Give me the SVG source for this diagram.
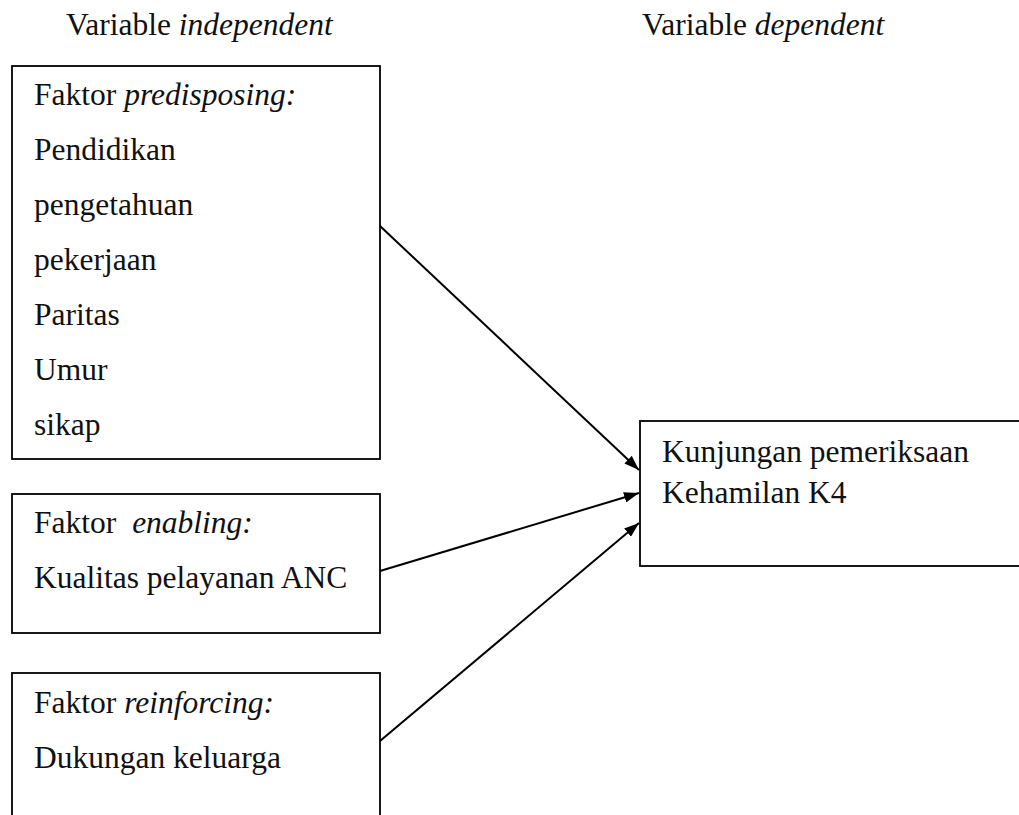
<svg xmlns="http://www.w3.org/2000/svg" width="1019" height="815" viewBox="0 0 1019 815">
  <style>
    text { font-family: "Liberation Serif", "Times New Roman", serif; font-size: 31.5px; fill: #111; }
    .it { font-style: italic; }
    .box { fill: none; stroke: #000; stroke-width: 1.8; }
    .conn { stroke: #000; stroke-width: 2; fill: none; marker-end: url(#arrow); }
  </style>
  <defs>
    <marker id="arrow" viewBox="0 0 14 10" refX="14" refY="5" markerWidth="7.5" markerHeight="5.4" markerUnits="strokeWidth" orient="auto">
      <path d="M0,0 L14,5 L0,10 Z" fill="#000"/>
    </marker>
  </defs>
  <rect width="1019" height="815" fill="#fff"/>

  <g id="header-independent">
    <text x="66" y="35">Variable <tspan class="it">independent</tspan></text>
  </g>
  <g id="header-dependent">
    <text x="642" y="35">Variable <tspan class="it">dependent</tspan></text>
  </g>

  <g id="node-predisposing">
    <rect class="box" x="12" y="66" width="368" height="393"/>
    <text x="34" y="105">Faktor <tspan class="it">predisposing:</tspan></text>
    <text x="34" y="160">Pendidikan</text>
    <text x="34" y="215">pengetahuan</text>
    <text x="34" y="270">pekerjaan</text>
    <text x="34" y="325">Paritas</text>
    <text x="34" y="380">Umur</text>
    <text x="34" y="435">sikap</text>
  </g>

  <g id="node-enabling">
    <rect class="box" x="12" y="494" width="368" height="139"/>
    <text x="34" y="533">Faktor <tspan class="it" dx="8">enabling:</tspan></text>
    <text x="34" y="588">Kualitas pelayanan ANC</text>
  </g>

  <g id="node-reinforcing">
    <rect class="box" x="12" y="673" width="368" height="160"/>
    <text x="34" y="713">Faktor <tspan class="it">reinforcing:</tspan></text>
    <text x="34" y="768">Dukungan keluarga</text>
  </g>

  <g id="node-k4">
    <rect class="box" x="640" y="421" width="400" height="145"/>
    <text x="662" y="462">Kunjungan pemeriksaan</text>
    <text x="662" y="503">Kehamilan K4</text>
  </g>

  <g id="connectors">
    <line class="conn" x1="380" y1="226" x2="639" y2="470"/>
    <line class="conn" x1="380" y1="571" x2="639" y2="493"/>
    <line class="conn" x1="380" y1="741" x2="639" y2="523"/>
  </g>
</svg>
